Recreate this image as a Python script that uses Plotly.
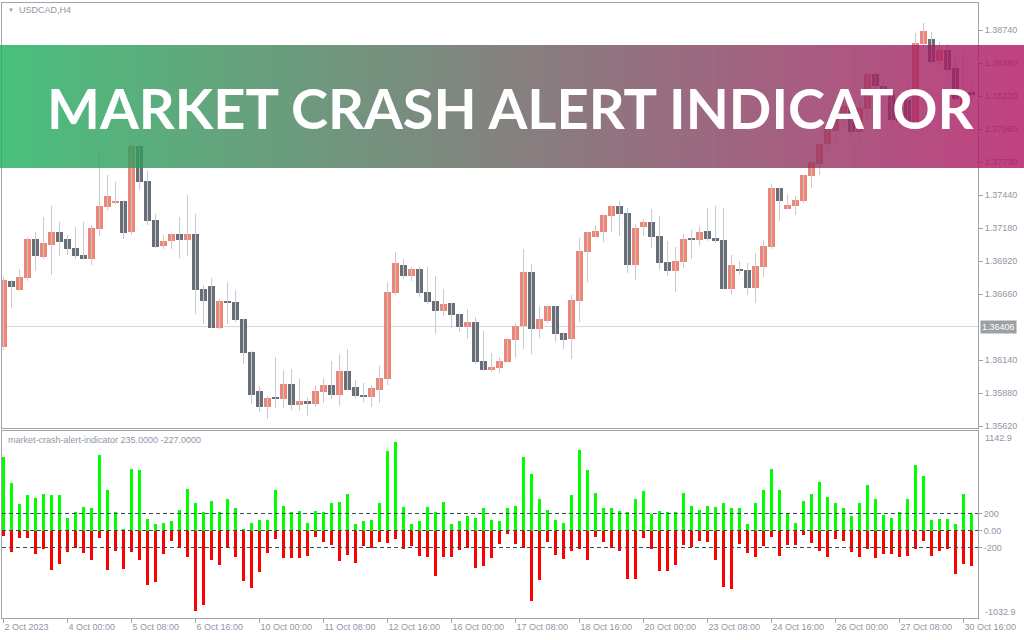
import base64
import struct
import zlib

import plotly.graph_objects as go

W, H = 1024, 640

# ---------------- data ----------------
time_labels = ["2 Oct 2023", "4 Oct 00:00", "5 Oct 08:00", "6 Oct 16:00", "10 Oct 00:00",
               "11 Oct 08:00", "12 Oct 16:00", "16 Oct 00:00", "17 Oct 08:00", "18 Oct 16:00",
               "20 Oct 00:00", "23 Oct 08:00", "24 Oct 16:00", "26 Oct 00:00", "27 Oct 08:00",
               "30 Oct 16:00"]
label_bars = [0, 8, 16, 24, 32, 40, 48, 56, 64, 72, 80, 88, 96, 104, 112, 120]

price_ticks = [1.35620, 1.35880, 1.36140, 1.36400, 1.36660, 1.36920, 1.37180,
               1.37440, 1.37700, 1.37960, 1.38220, 1.38480, 1.38740]
price_tick_hide = [1.36400]
current_price = 1.36406

open_ = [1.36247, 1.36765, 1.36694, 1.36791, 1.37096, 1.36954, 1.37048, 1.37151, 1.37096, 1.37025,
         1.36970, 1.36938, 1.37174, 1.37348, 1.37387, 1.37395, 1.37151, 1.37829, 1.37553, 1.37245,
         1.37041, 1.37080, 1.37135, 1.37088, 1.37135, 1.36702, 1.36725, 1.36394, 1.36607, 1.36599,
         1.36465, 1.36205, 1.35898, 1.35772, 1.35843, 1.35835, 1.35953, 1.35788, 1.35819, 1.35795,
         1.35890, 1.35945, 1.35866, 1.36056, 1.35929, 1.35866, 1.35851, 1.35906, 1.35993, 1.36670,
         1.36891, 1.36804, 1.36859, 1.36678, 1.36607, 1.36528, 1.36591, 1.36505, 1.36402, 1.36442,
         1.36134, 1.36063, 1.36079, 1.36126, 1.36300, 1.36410, 1.36836, 1.36386, 1.36450, 1.36568,
         1.36355, 1.36308, 1.36607, 1.36993, 1.37111, 1.37151, 1.37277, 1.37356, 1.37301, 1.36891,
         1.37190, 1.37230, 1.37119, 1.36914, 1.36844, 1.36914, 1.37096, 1.37088, 1.37159, 1.37104,
         1.37088, 1.36702, 1.36859, 1.36851, 1.36710, 1.36875, 1.37033, 1.37498, 1.37332, 1.37356,
         1.37395, 1.37592, 1.37687, 1.37844, 1.37947, 1.38049, 1.38144, 1.37939, 1.38120, 1.38396,
         1.38301, 1.38238, 1.38018, 1.38191, 1.38002, 1.38632, 1.38672, 1.38498, 1.38585, 1.38443,
         1.38128, 1.38254]
high = [1.36799, 1.36773, 1.36859, 1.37111, 1.37151, 1.37269, 1.37356, 1.37230, 1.37127, 1.37190,
        1.37230, 1.37206, 1.37789, 1.37600, 1.37545, 1.37398, 1.37852, 1.37844, 1.37632, 1.37293,
        1.37127, 1.37140, 1.37269, 1.37442, 1.37293, 1.36733, 1.36788, 1.36623, 1.36757, 1.36694,
        1.36468, 1.36213, 1.35937, 1.35859, 1.36166, 1.36063, 1.36071, 1.35993, 1.35851, 1.35945,
        1.36000, 1.36134, 1.36189, 1.36229, 1.35985, 1.35961, 1.35945, 1.36095, 1.36757, 1.36993,
        1.36938, 1.36875, 1.36875, 1.36875, 1.36804, 1.36702, 1.36594, 1.36508, 1.36544, 1.36481,
        1.36371, 1.36197, 1.36166, 1.36316, 1.36434, 1.37017, 1.36899, 1.36568, 1.36571, 1.36571,
        1.36358, 1.36654, 1.37104, 1.37154, 1.37206, 1.37288, 1.37359, 1.37395, 1.37340, 1.37214,
        1.37253, 1.37332, 1.37277, 1.37080, 1.37033, 1.37135, 1.37167, 1.37198, 1.37340, 1.37356,
        1.37340, 1.36970, 1.36922, 1.36907, 1.36985, 1.37088, 1.37529, 1.37501, 1.37450, 1.37435,
        1.37603, 1.37705, 1.37847, 1.38033, 1.38183, 1.38191, 1.38191, 1.38191, 1.38427, 1.38412,
        1.38349, 1.38270, 1.38230, 1.38309, 1.38719, 1.38798, 1.38727, 1.38648, 1.38632, 1.38553,
        1.38561, 1.38309]
low = [1.36221, 1.36550, 1.36688, 1.36767, 1.36846, 1.36938, 1.36812, 1.36962, 1.36970, 1.36938,
       1.36935, 1.36891, 1.37119, 1.37324, 1.37371, 1.37096, 1.37127, 1.37482, 1.37206, 1.37025,
       1.37017, 1.37017, 1.36946, 1.36962, 1.36505, 1.36426, 1.36390, 1.36386, 1.36426, 1.36442,
       1.36111, 1.35795, 1.35732, 1.35677, 1.35764, 1.35764, 1.35748, 1.35740, 1.35701, 1.35772,
       1.35803, 1.35835, 1.35780, 1.35900, 1.35843, 1.35811, 1.35772, 1.35803, 1.35945, 1.36654,
       1.36780, 1.36765, 1.36640, 1.36583, 1.36347, 1.36489, 1.36394, 1.36363, 1.36308, 1.36111,
       1.36060, 1.36048, 1.36040, 1.36120, 1.36158, 1.36229, 1.36189, 1.36316, 1.36434, 1.36284,
       1.36229, 1.36150, 1.36442, 1.36757, 1.37108, 1.37072, 1.37151, 1.37119, 1.36828, 1.36773,
       1.37119, 1.37025, 1.36851, 1.36804, 1.36678, 1.36867, 1.36938, 1.37041, 1.37080, 1.37064,
       1.36700, 1.36654, 1.36812, 1.36654, 1.36591, 1.36796, 1.37017, 1.37238, 1.37330, 1.37285,
       1.37379, 1.37498, 1.37600, 1.37789, 1.37876, 1.37994, 1.37892, 1.37876, 1.38033, 1.38033,
       1.38191, 1.37986, 1.37970, 1.37955, 1.37955, 1.38609, 1.38487, 1.38467, 1.38372, 1.38191,
       1.38096, 1.38191]
close = [1.36773, 1.36720, 1.36796, 1.37096, 1.36964, 1.37064, 1.37151, 1.37072, 1.37017, 1.36962,
         1.36938, 1.37182, 1.37356, 1.37435, 1.37395, 1.37143, 1.37829, 1.37545, 1.37238, 1.37033,
         1.37080, 1.37135, 1.37088, 1.37135, 1.36694, 1.36607, 1.36394, 1.36607, 1.36591, 1.36457,
         1.36197, 1.35866, 1.35772, 1.35843, 1.35835, 1.35953, 1.35788, 1.35819, 1.35795, 1.35898,
         1.35945, 1.35866, 1.36056, 1.35906, 1.35859, 1.35851, 1.35922, 1.36000, 1.36678, 1.36907,
         1.36804, 1.36859, 1.36670, 1.36599, 1.36528, 1.36583, 1.36497, 1.36402, 1.36442, 1.36126,
         1.36063, 1.36087, 1.36134, 1.36308, 1.36410, 1.36836, 1.36386, 1.36465, 1.36568, 1.36347,
         1.36300, 1.36615, 1.37001, 1.37151, 1.37159, 1.37285, 1.37356, 1.37293, 1.36891, 1.37182,
         1.37230, 1.37111, 1.36907, 1.36844, 1.36922, 1.37096, 1.37088, 1.37151, 1.37096, 1.37080,
         1.36702, 1.36891, 1.36844, 1.36710, 1.36883, 1.37041, 1.37498, 1.37395, 1.37364, 1.37403,
         1.37600, 1.37702, 1.37844, 1.37978, 1.38128, 1.38144, 1.37939, 1.38128, 1.38396, 1.38301,
         1.38238, 1.38033, 1.38191, 1.38002, 1.38640, 1.38735, 1.38490, 1.38585, 1.38427, 1.38199,
         1.38254, 1.38230]

bull_power = [862, 557, 310, 423, 380, 427, 412, 412, 153, 216,
              282, 270, 894, 482, 216, 12, 729, 706, 141, 71,
              94, 106, 247, 494, 318, 223, 353, 223, 365, 270,
              12, 94, 129, 118, 482, 294, 223, 235, 94, 235,
              223, 318, 341, 435, 71, 106, 129, 318, 941, 1047,
              282, 82, 106, 282, 223, 341, 82, 106, 176, 153,
              259, 129, 106, 259, 294, 859, 659, 376, 247, 118,
              94, 423, 953, 706, 447, 259, 270, 235, 212, 376,
              470, 200, 235, 223, 223, 447, 294, 247, 294, 282,
              329, 259, 259, 82, 318, 482, 729, 482, 200, 94,
              353, 435, 576, 400, 329, 259, 176, 318, 541, 365,
              188, 153, 212, 365, 776, 647, 118, 141, 141, 71, 435, 200]
bear_power = [-59, -255, -90, -90, -282, -220, -466, -396, -255, -200,
              -267, -349, -90, -466, -243, -455, -255, -349, -643, -608,
              -278, -125, -208, -314, -949, -878, -349, -408, -208, -314,
              -596, -678, -490, -267, -102, -325, -325, -325, -302, -78,
              -137, -172, -361, -290, -384, -184, -208, -137, -149, -102,
              -220, -184, -302, -314, -537, -314, -314, -231, -208, -443,
              -419, -325, -161, -43, -161, -208, -831, -584, -137, -290,
              -337, -243, -220, -349, -78, -137, -208, -243, -572, -572,
              -90, -220, -478, -478, -408, -172, -196, -125, -137, -349,
              -666, -690, -161, -267, -314, -184, -78, -302, -172, -172,
              -55, -149, -243, -314, -102, -125, -255, -314, -220, -325,
              -278, -278, -314, -302, -220, -125, -302, -243, -220, -514, -396, -419]
ind_levels = [200, 0, -200]
ind_max, ind_min = 1142.9, -1032.9

# ---------------- styles ----------------
BULL = "#EF8575"
BEAR = "#686E78"
WICK = "#C9CBD3"
FRAME = "#A3A3A3"
TXT = "#8F96A6"
FONT = "Liberation Sans, Arial, sans-serif"
BANNER_LEFT = (28, 176, 92, 204)
BANNER_RIGHT = (178, 18, 98, 204)


def px(x):
    return x / W


def py(y):
    return 1 - y / H


def gradient_png(c0, c1, steps=256):
    row = bytearray()
    for k in range(steps):
        t = k / (steps - 1)
        row += bytes(int(round(a + (b - a) * t)) for a, b in zip(c0, c1))
    raw = b"".join(b"\x00" + bytes(row) for _ in range(2))

    def chunk(tag, data):
        return (struct.pack(">I", len(data)) + tag + data
                + struct.pack(">I", zlib.crc32(tag + data) & 0xFFFFFFFF))

    png = (b"\x89PNG\r\n\x1a\n"
           + chunk(b"IHDR", struct.pack(">IIBBBBB", steps, 2, 8, 6, 0, 0, 0))
           + chunk(b"IDAT", zlib.compress(raw, 9))
           + chunk(b"IEND", b""))
    return "data:image/png;base64," + base64.b64encode(png).decode()


n = len(close)
idx = list(range(n))

fig = go.Figure()

# wicks
wx, wy = [], []
for i in idx:
    wx += [i, i, None]
    wy += [low[i], high[i], None]
fig.add_trace(go.Scatter(x=wx, y=wy, mode="lines", line=dict(color=WICK, width=1),
                         hoverinfo="skip", showlegend=False, xaxis="x", yaxis="y"))

# bodies
min_body = 0.00009
base = [min(o, c) for o, c in zip(open_, close)]
hgt = [max(abs(c - o), min_body) for o, c in zip(open_, close)]
cols = [BULL if c >= o else BEAR for o, c in zip(open_, close)]
fig.add_trace(go.Bar(x=idx, y=hgt, base=base, width=0.86,
                     marker=dict(color=cols, line=dict(width=0)),
                     showlegend=False, xaxis="x", yaxis="y"))

# indicator
fig.add_trace(go.Bar(x=idx, y=bull_power, width=0.4,
                     marker=dict(color="#00FF00", line=dict(width=0)),
                     showlegend=False, xaxis="x2", yaxis="y2"))
fig.add_trace(go.Bar(x=idx, y=bear_power, width=0.4,
                     marker=dict(color="#FF0000", line=dict(width=0)),
                     showlegend=False, xaxis="x2", yaxis="y2"))

xr = [-0.19, n - 0.19]
main_dom = [py(428), py(3)]
ind_dom = [py(618), py(431)]
xdom = [px(2), px(978)]

yr_main = [1.38979 - 0.0000788 * 428, 1.38979 - 0.0000788 * 3]
yr_ind = [-1029.4, 1170.6]

axis_common = dict(showgrid=False, zeroline=False, showline=True, linecolor=FRAME, linewidth=1,
                   mirror=True, automargin=False)

fig.update_layout(
    width=W, height=H, margin=dict(l=0, r=0, t=0, b=0, pad=0, autoexpand=False),
    paper_bgcolor="white", plot_bgcolor="white", barmode="overlay", bargap=0,
    showlegend=False,
    font=dict(family=FONT, size=9, color=TXT),
    xaxis=dict(domain=xdom, range=xr, anchor="y", showticklabels=False, ticks="", **axis_common),
    yaxis=dict(domain=main_dom, range=yr_main, anchor="x", side="right",
               tickvals=[t for t in price_ticks if t not in price_tick_hide],
               ticktext=[f"{t:.5f}" for t in price_ticks if t not in price_tick_hide],
               ticks="outside", ticklen=4, tickcolor=FRAME, tickfont=dict(size=9, color=TXT),
               **axis_common),
    xaxis2=dict(domain=xdom, range=xr, anchor="y2", tickvals=label_bars, ticktext=time_labels,
                ticks="outside", ticklen=4, tickcolor=FRAME, ticklabelposition="outside right",
                tickfont=dict(size=9, color=TXT), **axis_common),
    yaxis2=dict(domain=ind_dom, range=yr_ind, anchor="x2", side="right",
                tickvals=ind_levels, ticktext=["200", "0.00", "-200"],
                ticks="outside", ticklen=3, tickcolor=FRAME, tickfont=dict(size=9, color=TXT),
                **axis_common),
)

# current price line
fig.add_shape(type="line", xref="x domain", yref="y", x0=0, x1=1, y0=current_price, y1=current_price,
              line=dict(color="#D6D7DC", width=1), layer="below")

# indicator levels
for lv in ind_levels:
    fig.add_shape(type="line", xref="x2 domain", yref="y2", x0=0, x1=1, y0=lv, y1=lv,
                  line=dict(color="#2F4F4F", width=1, dash="4px,3px"), layer="above")

# banner gradient
fig.add_layout_image(dict(source=gradient_png(BANNER_LEFT, BANNER_RIGHT), xref="paper", yref="paper",
                          x=0, y=py(45), sizex=1, sizey=(168 - 45) / H, sizing="stretch",
                          xanchor="left", yanchor="top", layer="above", opacity=1))

ann = []
ann.append(dict(text=f"{current_price:.5f}", xref="paper", yref="y", x=px(980), y=current_price,
                xanchor="left", yanchor="middle", showarrow=False, bgcolor="#9C9FA4",
                font=dict(family=FONT, size=9, color="white"), borderpad=1))
ann.append(dict(text=f"{ind_max:.1f}", xref="paper", yref="paper", x=px(983), y=py(438),
                xanchor="left", yanchor="middle", showarrow=False,
                font=dict(family=FONT, size=9, color=TXT)))
ann.append(dict(text=f"{ind_min:.1f}", xref="paper", yref="paper", x=px(983), y=py(612),
                xanchor="left", yanchor="middle", showarrow=False,
                font=dict(family=FONT, size=9, color=TXT)))
ann.append(dict(text="USDCAD,H4", xref="paper", yref="paper", x=px(17), y=py(10),
                xanchor="left", yanchor="middle", showarrow=False,
                font=dict(family=FONT, size=9, color=TXT)))
ann.append(dict(text="▼", xref="paper", yref="paper", x=px(6), y=py(10),
                xanchor="left", yanchor="middle", showarrow=False,
                font=dict(family=FONT, size=6, color="#9A9A9A")))
ann.append(dict(text="market-crash-alert-indicator 235.0000 -227.0000", xref="paper", yref="paper",
                x=px(6), y=py(440), xanchor="left", yanchor="middle", showarrow=False,
                font=dict(family=FONT, size=9, color=TXT)))
ann.append(dict(text="MARKET CRASH ALERT INDICATOR", xref="paper", yref="paper", x=px(511), y=py(108),
                xanchor="center", yanchor="middle", showarrow=False,
                font=dict(family="Lato, sans-serif", size=56, color="white", weight=700)))
fig.update_layout(annotations=ann)

fig.write_html("out.html", config={"displayModeBar": False},
               post_script="document.body.style.margin='0';document.body.style.overflow='hidden';")
